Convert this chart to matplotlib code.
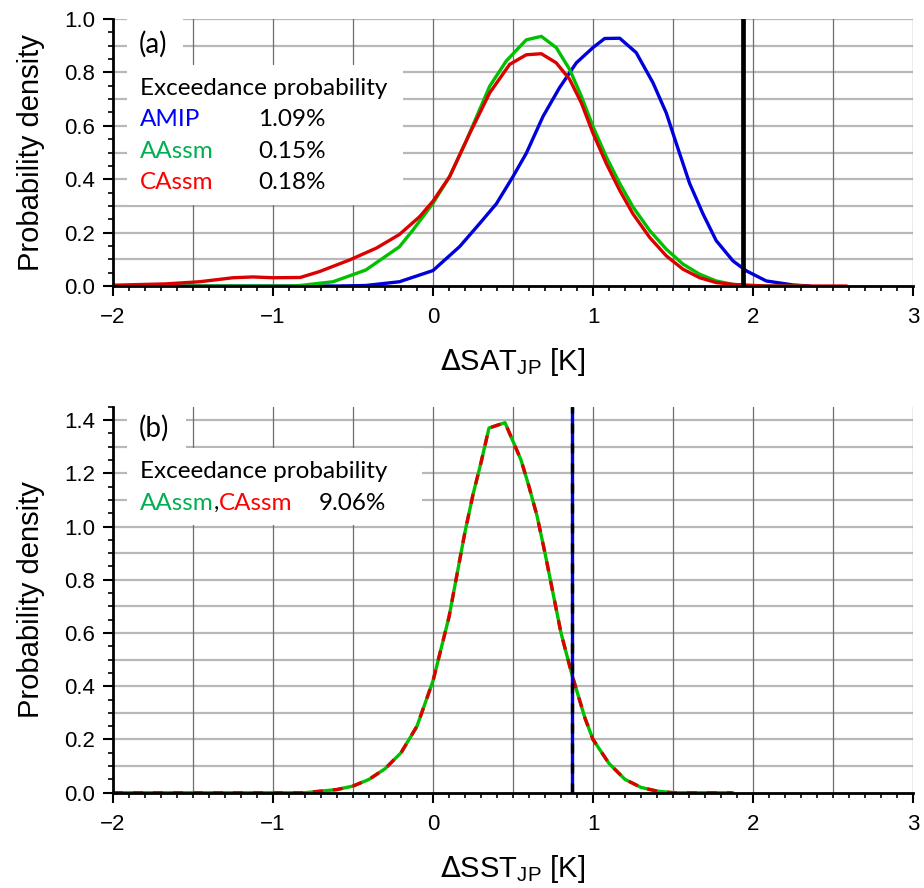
import matplotlib

matplotlib.use("Agg")
import matplotlib.pyplot as plt
import numpy as np
from matplotlib.patches import Rectangle
from matplotlib.ticker import FormatStrFormatter, MultipleLocator

# panel (a): Delta SAT_JP
amip_x = [-2.0, -0.6, -0.42, -0.21, 0.0, 0.167, 0.29, 0.396, 0.5, 0.583, 0.6875, 0.79, 0.896,
          1.0, 1.073, 1.167, 1.27, 1.375, 1.458, 1.52, 1.604, 1.6875, 1.77, 1.875, 1.958,
          2.083, 2.25, 2.35]
amip_y = [0.0, 0.0, 0.002, 0.016, 0.058, 0.148, 0.233, 0.308, 0.41, 0.497, 0.635, 0.742, 0.836,
          0.893, 0.927, 0.928, 0.874, 0.761, 0.648, 0.535, 0.384, 0.27, 0.17, 0.094, 0.057,
          0.019, 0.004, 0.0]

aassm_x = [-2.0, -0.9, -0.83, -0.625, -0.42, -0.21, -0.125, 0.0, 0.104, 0.21, 0.354, 0.458,
           0.583, 0.677, 0.77, 0.854, 0.927, 1.0, 1.083, 1.167, 1.25, 1.354, 1.458, 1.5625,
           1.667, 1.77, 1.875, 1.98, 2.3]
aassm_y = [0.0, 0.0, 0.002, 0.016, 0.06, 0.147, 0.21, 0.31, 0.41, 0.547, 0.748, 0.843,
           0.922, 0.935, 0.893, 0.811, 0.711, 0.597, 0.484, 0.384, 0.296, 0.208, 0.138, 0.082,
           0.044, 0.019, 0.006, 0.0, 0.0]

cassm_x = [-2.0, -1.67, -1.46, -1.25, -1.125, -1.0, -0.83, -0.71, -0.52, -0.354, -0.21, -0.083,
           0.0, 0.104, 0.23, 0.354, 0.479, 0.583, 0.677, 0.77, 0.854, 0.927, 1.0, 1.083, 1.167,
           1.25, 1.354, 1.458, 1.5625, 1.667, 1.77, 1.875, 2.08, 2.58]
cassm_y = [0.003, 0.008, 0.016, 0.031, 0.034, 0.031, 0.032, 0.054, 0.098, 0.142, 0.193, 0.26,
           0.318, 0.41, 0.572, 0.723, 0.83, 0.866, 0.87, 0.836, 0.774, 0.686, 0.572, 0.459, 0.358,
           0.27, 0.182, 0.113, 0.063, 0.031, 0.013, 0.006, 0.0, 0.0]

sat_observed = 1.94

# panel (b): Delta SST_JP (AAssm and CAssm identical)
sst_x = [-2.0, -1.0, -0.8, -0.6, -0.5, -0.4, -0.3, -0.2, -0.1, 0.0, 0.1, 0.15, 0.2, 0.25, 0.3,
         0.35, 0.45, 0.5, 0.55, 0.6, 0.65, 0.7, 0.75, 0.8, 0.87, 0.95, 1.0, 1.1, 1.2, 1.3, 1.4,
         1.5, 1.87]
sst_y = [0.0, 0.0, 0.0, 0.012, 0.025, 0.05, 0.09, 0.15, 0.25, 0.42, 0.66, 0.82, 0.98, 1.12, 1.24,
         1.37, 1.39, 1.32, 1.25, 1.15, 1.04, 0.9, 0.75, 0.6, 0.44, 0.28, 0.2, 0.11, 0.05, 0.02,
         0.006, 0.0, 0.0]

sst_observed = 0.867

prob_labels_a = ["AMIP", "AAssm", "CAssm"]
prob_values_a = ["1.09%", "0.15%", "0.18%"]
prob_value_b = "9.06%"

BLUE = "#0000dd"
GREEN = "#00c000"
RED = "#dd0000"
TXT_BLUE = "#0000ff"
TXT_GREEN = "#00b050"
TXT_RED = "#ff0000"

tick_font = "Liberation Sans"
note_font = "Lato"
NOTE_SIZE = 17.5
PANEL_SIZE = 20

fig = plt.figure(figsize=(9.24, 8.88), dpi=100)
ax_a = fig.add_axes([0.1223, 0.6779, 0.8658, 0.3007])
ax_b = fig.add_axes([0.1223, 0.1073, 0.8658, 0.4347])


def style_axes(ax, ymax, xlabel):
    ax.set_xlim(-2, 3)
    ax.set_ylim(0, ymax)
    for y in np.arange(0.1, ymax + 1e-6, 0.1):
        ax.axhline(y, color="#b8b8b8", linewidth=1.6, zorder=1)
    for x in np.arange(-1.5, 3.01, 0.5):
        ax.axvline(x, color="#6e6e6e", linewidth=0.9, zorder=1.1)
    ax.spines["top"].set_visible(False)
    ax.spines["right"].set_visible(False)
    for side in ("left", "bottom"):
        ax.spines[side].set_linewidth(2.0)
        ax.spines[side].set_zorder(6)
    ax.xaxis.set_major_locator(MultipleLocator(1))
    ax.xaxis.set_minor_locator(MultipleLocator(0.1))
    ax.yaxis.set_major_locator(MultipleLocator(0.2))
    ax.yaxis.set_minor_locator(MultipleLocator(0.05))
    ax.tick_params(which="major", direction="out", length=7, width=1.5, labelsize=16)
    ax.tick_params(axis="x", which="major", pad=8)
    ax.tick_params(axis="y", which="major", pad=6)
    ax.tick_params(which="minor", direction="out", length=3.5, width=1.2)
    ax.yaxis.set_major_formatter(FormatStrFormatter("%.1f"))
    for lab in ax.get_xticklabels() + ax.get_yticklabels():
        lab.set_fontfamily(tick_font)
    ax.set_ylabel("Probability density", fontsize=21, family=tick_font, labelpad=14)
    ax.set_xlabel(xlabel, fontsize=21, family=tick_font, labelpad=13)


style_axes(ax_a, 1.0, r"$\Delta$SAT$_{\mathregular{JP}}$ [K]")
style_axes(ax_b, 1.45, r"$\Delta$SST$_{\mathregular{JP}}$ [K]")

# panel (a)
ax_a.add_patch(Rectangle((0.0175, 0.828), 0.07, 0.172, transform=ax_a.transAxes,
                         facecolor="white", edgecolor="none", zorder=2))
ax_a.add_patch(Rectangle((0.0175, 0.303), 0.345, 0.525, transform=ax_a.transAxes,
                         facecolor="white", edgecolor="none", zorder=2))
ax_a.plot(amip_x, amip_y, color=BLUE, linewidth=2.4, zorder=3)
ax_a.plot(aassm_x, aassm_y, color=GREEN, linewidth=2.4, zorder=3.1)
ax_a.plot(cassm_x, cassm_y, color=RED, linewidth=2.4, zorder=3.2)
ax_a.axvline(sat_observed, color="black", linewidth=3.4, zorder=4)

ax_a.text(0.032, 0.905, "(a)", transform=ax_a.transAxes, fontsize=PANEL_SIZE, family=note_font,
          va="center", zorder=5)
ax_a.text(0.034, 0.738, "Exceedance probability", transform=ax_a.transAxes, fontsize=NOTE_SIZE,
          family=note_font, va="center", zorder=5)
for i, (name, val, col) in enumerate(zip(prob_labels_a, prob_values_a,
                                         [TXT_BLUE, TXT_GREEN, TXT_RED])):
    yy = 0.622 - i * 0.118
    ax_a.text(0.034, yy, name, color=col, transform=ax_a.transAxes, fontsize=NOTE_SIZE,
              family=note_font, va="center", zorder=5)
    ax_a.text(0.181, yy, val, transform=ax_a.transAxes, fontsize=NOTE_SIZE,
              family=note_font, va="center", zorder=5)

# panel (b)
ax_b.add_patch(Rectangle((0.0175, 0.893), 0.0735, 0.107, transform=ax_b.transAxes,
                         facecolor="white", edgecolor="none", zorder=2))
ax_b.add_patch(Rectangle((0.0175, 0.6935), 0.3685, 0.1995, transform=ax_b.transAxes,
                         facecolor="white", edgecolor="none", zorder=2))
ax_b.plot(sst_x, sst_y, color=GREEN, linewidth=2.4, zorder=3)
ax_b.plot(sst_x, sst_y, color=RED, linewidth=2.4, dashes=(3, 3), zorder=3.1)
ax_b.axvline(sst_observed, color=BLUE, linewidth=2.4, zorder=4)
ax_b.axvline(sst_observed, color="black", linewidth=2.4, dashes=(3, 3), zorder=4.1)

ax_b.text(0.032, 0.945, "(b)", transform=ax_b.transAxes, fontsize=PANEL_SIZE, family=note_font,
          va="center", zorder=5)
ax_b.text(0.034, 0.832, "Exceedance probability", transform=ax_b.transAxes, fontsize=NOTE_SIZE,
          family=note_font, va="center", zorder=5)
t1 = ax_b.text(0.034, 0.7505, "AAssm", color=TXT_GREEN, transform=ax_b.transAxes,
               fontsize=NOTE_SIZE, family=note_font, va="center", zorder=5)
t2 = ax_b.annotate(",", xy=(1, 0), xycoords=t1, va="bottom", fontsize=NOTE_SIZE,
                   family=note_font, zorder=5)
ax_b.annotate("CAssm", xy=(1, 0), xycoords=t2, va="bottom", color=TXT_RED, fontsize=NOTE_SIZE,
              family=note_font, zorder=5)
ax_b.text(0.2575, 0.7505, prob_value_b, transform=ax_b.transAxes, fontsize=NOTE_SIZE,
          family=note_font, va="center", zorder=5)

fig.savefig("out.png", dpi=100)
